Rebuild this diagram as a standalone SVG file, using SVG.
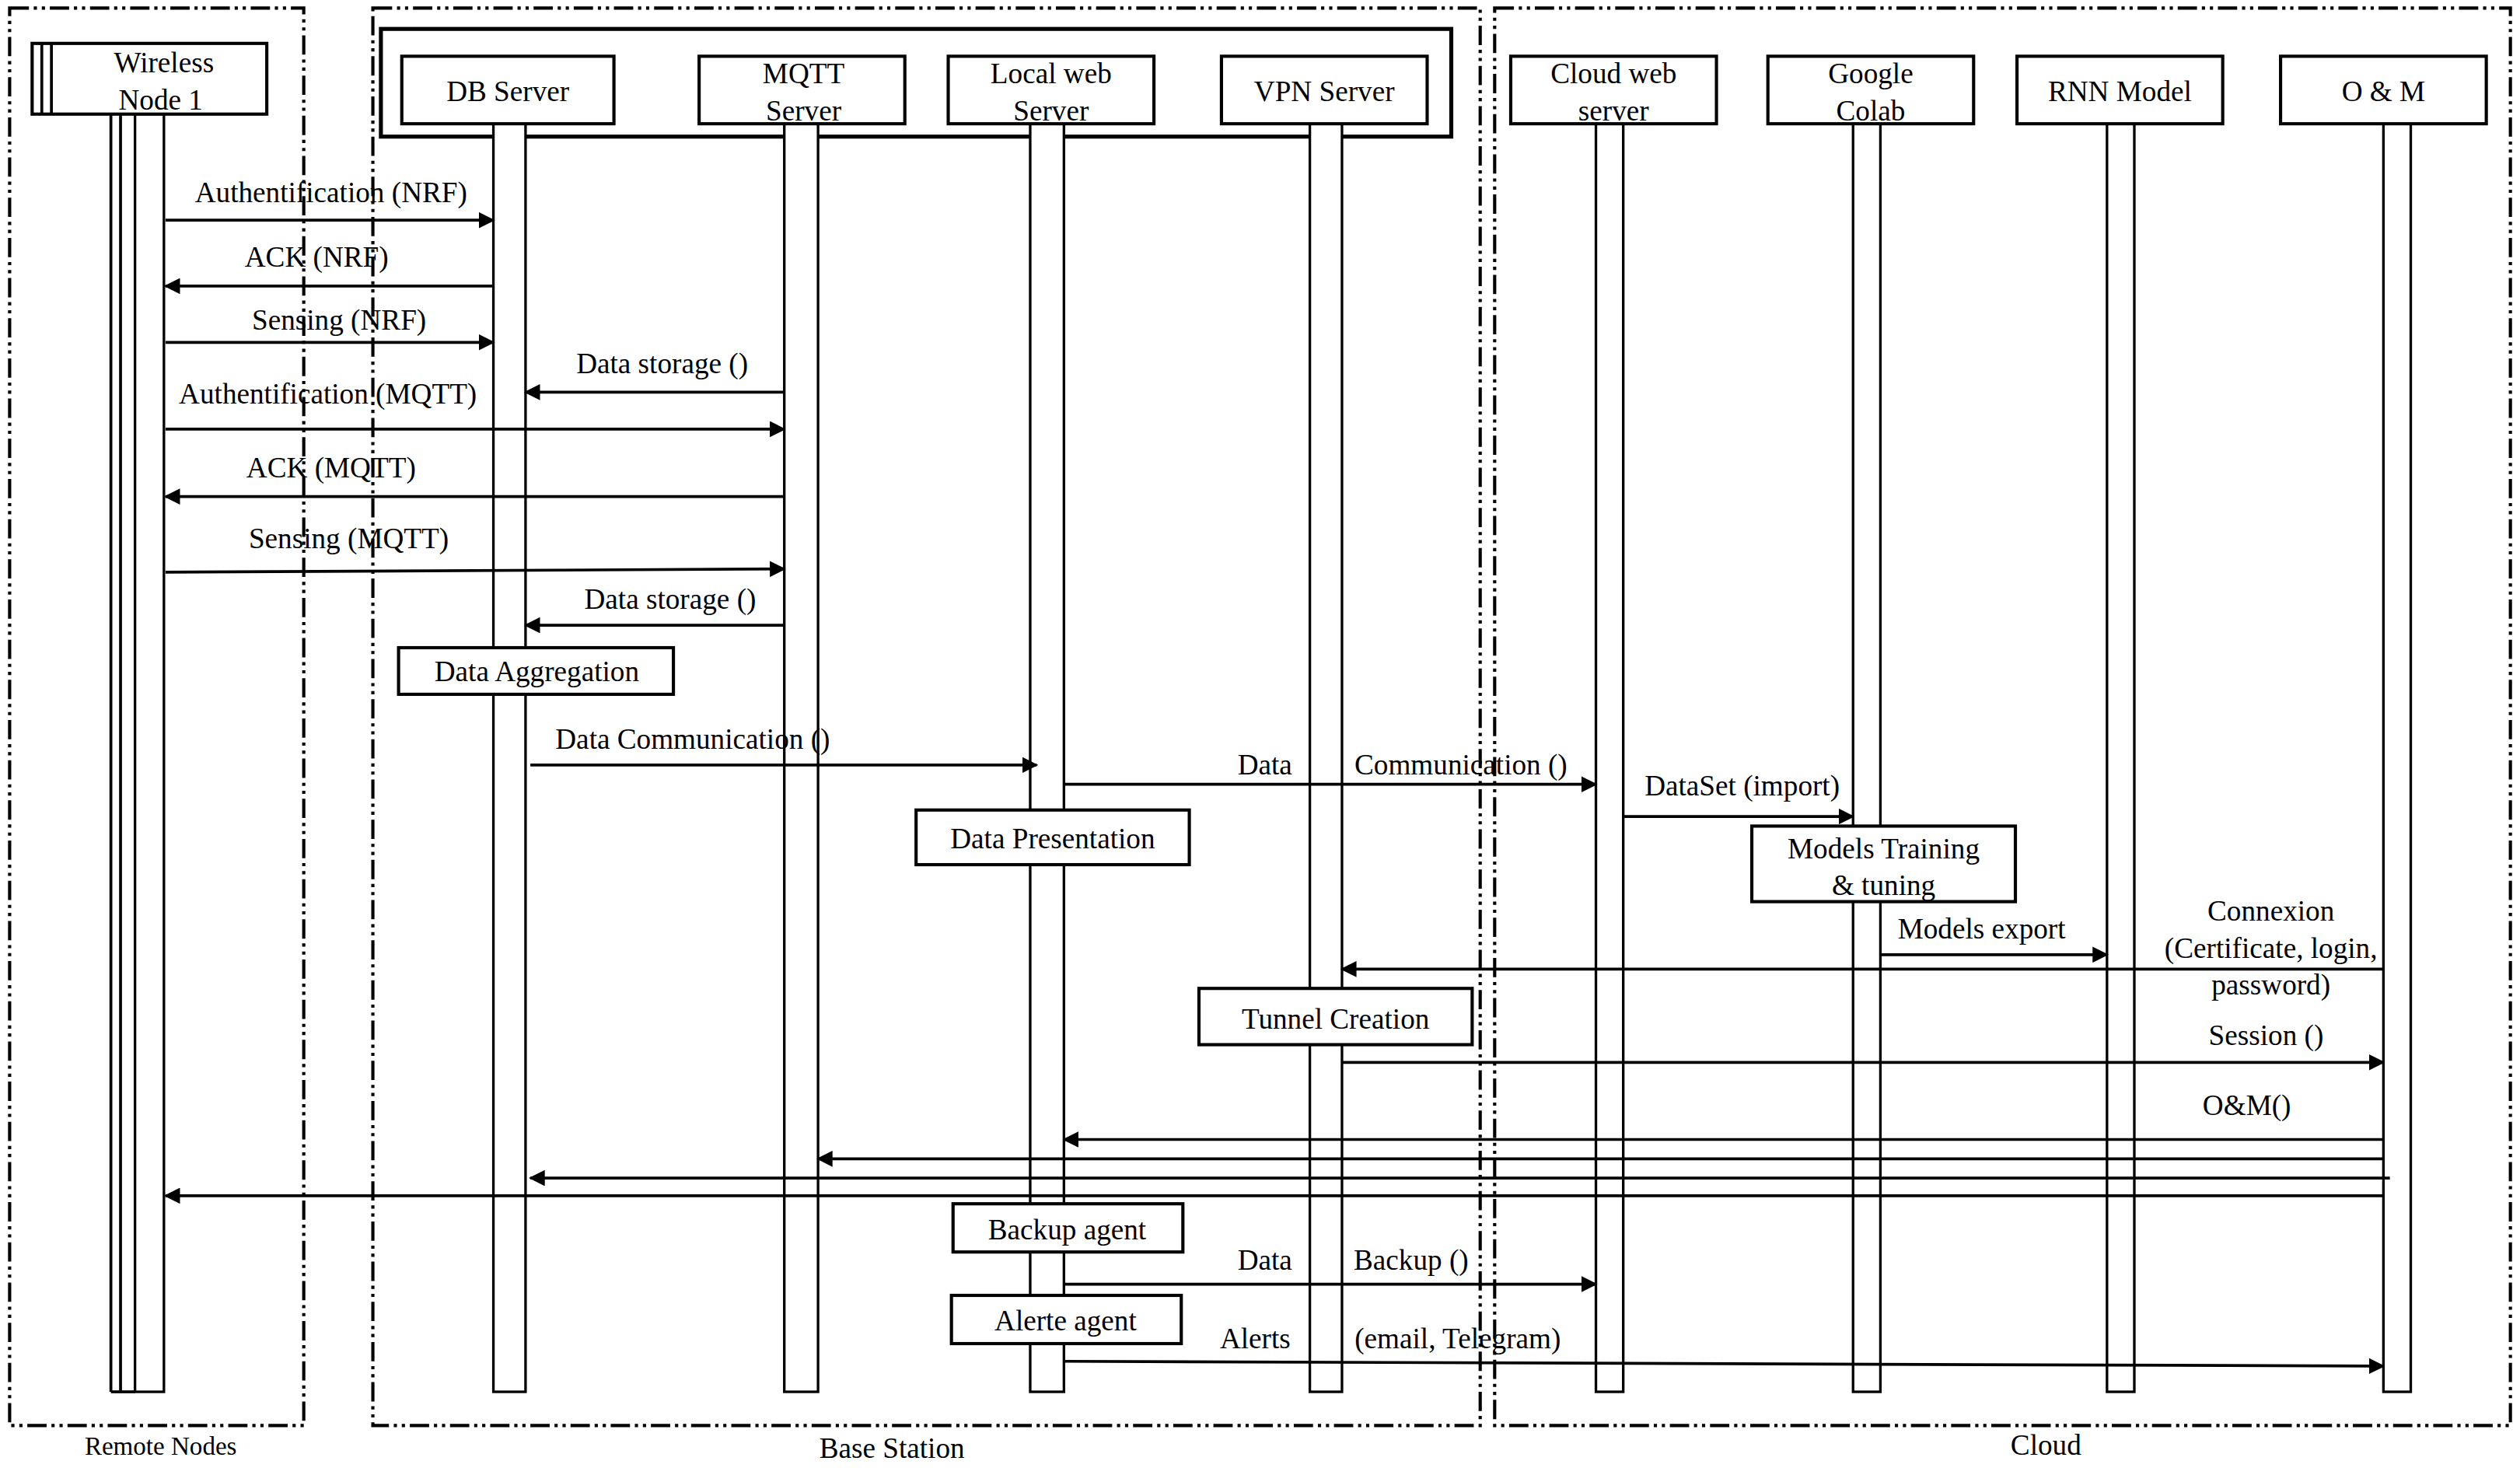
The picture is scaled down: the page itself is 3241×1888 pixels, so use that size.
<svg xmlns="http://www.w3.org/2000/svg" width="3241" height="1888" viewBox="0 0 3241 1888">
<defs>
<style>
text{font-family:"Liberation Serif","Times New Roman",serif;font-size:18px;fill:#000;text-anchor:middle}
.frame{fill:none;stroke:#000;stroke-width:2;stroke-dasharray:12,3,2,3,2,3}
.box{fill:#fff;stroke:#000;stroke-width:2}
.life{fill:#fff;stroke:#000;stroke-width:1.6}
.msg{fill:none;stroke:#000;stroke-width:1.8;marker-end:url(#ah)}
.ln{fill:none;stroke:#000;stroke-width:1.8}
</style>
<marker id="ah" markerUnits="userSpaceOnUse" markerWidth="10" markerHeight="10" refX="9" refY="5" orient="auto">
<path d="M0,0 L10,5 L0,10 Z" fill="#000"/>
</marker>
</defs>
<rect width="3241" height="1888" fill="#fff"/>
<g transform="scale(2.067)">
<g id="frames">
<rect class="frame" x="6" y="5" width="183" height="882"/>
<rect class="frame" x="232" y="5" width="689" height="882"/>
<rect class="frame" x="930" y="5" width="632" height="882"/>
<rect x="237" y="18" width="666" height="67" fill="none" stroke="#000" stroke-width="2.5"/>
<text x="100" y="905" style="font-size:16px">Remote Nodes</text>
<text x="555" y="907">Base Station</text>
<text x="1273" y="905">Cloud</text>
</g>
<g id="lifelines">
<line class="ln" x1="69" y1="71" x2="69" y2="866"/>
<line class="ln" x1="75" y1="71" x2="75" y2="866"/>
<rect class="life" x="84" y="71" width="18" height="795"/>
<line class="ln" x1="69" y1="866" x2="84" y2="866"/>
<rect class="life" x="307" y="77" width="20" height="789"/>
<rect class="life" x="488" y="77" width="21" height="789"/>
<rect class="life" x="641" y="77" width="21" height="789"/>
<rect class="life" x="815" y="77" width="20" height="789"/>
<rect class="life" x="993" y="77" width="17" height="789"/>
<rect class="life" x="1153" y="77" width="17" height="789"/>
<rect class="life" x="1311" y="77" width="17" height="789"/>
<rect class="life" x="1483" y="77" width="17" height="789"/>
</g>
<g id="node-wireless">
<rect class="box" x="20" y="27" width="146" height="44"/>
<line class="ln" x1="26" y1="27" x2="26" y2="71"/><line class="ln" x1="32" y1="27" x2="32" y2="71"/>
<text x="102" y="45">Wireless</text><text x="100" y="68">Node 1</text>
</g>
<g id="node-db"><rect class="box" x="250" y="35" width="132" height="42"/><text x="316" y="63">DB Server</text></g>
<g id="node-mqtt"><rect class="box" x="435" y="35" width="128" height="42"/><text x="500" y="52">MQTT</text><text x="500" y="75">Server</text></g>
<g id="node-local"><rect class="box" x="590" y="35" width="128" height="42"/><text x="654" y="52">Local web</text><text x="654" y="75">Server</text></g>
<g id="node-vpn"><rect class="box" x="760" y="35" width="128" height="42"/><text x="824" y="63">VPN Server</text></g>
<g id="node-cloudweb"><rect class="box" x="940" y="35" width="128" height="42"/><text x="1004" y="52">Cloud web</text><text x="1004" y="75">server</text></g>
<g id="node-colab"><rect class="box" x="1100" y="35" width="128" height="42"/><text x="1164" y="52">Google</text><text x="1164" y="75">Colab</text></g>
<g id="node-rnn"><rect class="box" x="1255" y="35" width="128" height="42"/><text x="1319" y="63">RNN Model</text></g>
<g id="node-om"><rect class="box" x="1419" y="35" width="128" height="42"/><text x="1483" y="63">O &amp; M</text></g>
<g id="connectors">
<line class="msg" x1="103" y1="137" x2="307" y2="137"/>
<line class="msg" x1="307" y1="178" x2="103" y2="178"/>
<line class="msg" x1="103" y1="213" x2="307" y2="213"/>
<line class="msg" x1="488" y1="244" x2="327" y2="244"/>
<line class="msg" x1="103" y1="267" x2="488" y2="267"/>
<line class="msg" x1="488" y1="309" x2="103" y2="309"/>
<line class="msg" x1="103" y1="356" x2="488" y2="354"/>
<line class="msg" x1="488" y1="389" x2="327" y2="389"/>
<line class="msg" x1="330" y1="476" x2="645" y2="476"/>
<line class="msg" x1="662" y1="488" x2="993" y2="488"/>
<line class="msg" x1="1010" y1="508" x2="1153" y2="508"/>
<line class="msg" x1="1170" y1="594" x2="1311" y2="594"/>
<line class="msg" x1="1483" y1="603" x2="835" y2="603"/>
<line class="msg" x1="835" y1="661" x2="1483" y2="661"/>
<line class="msg" x1="1483" y1="709" x2="662" y2="709"/>
<line class="msg" x1="1483" y1="721" x2="509" y2="721"/>
<line class="msg" x1="1487" y1="733" x2="330" y2="733"/>
<line class="msg" x1="1483" y1="744" x2="103" y2="744"/>
<line class="msg" x1="662" y1="799" x2="993" y2="799"/>
<line class="msg" x1="662" y1="847" x2="1483" y2="850"/>
</g>
<g id="labels">
<text x="206" y="126">Authentification (NRF)</text>
<text x="197" y="166">ACK (NRF)</text>
<text x="211" y="205">Sensing (NRF)</text>
<text x="412" y="232">Data storage ()</text>
<text x="204" y="251">Authentification (MQTT)</text>
<text x="206" y="297">ACK (MQTT)</text>
<text x="217" y="341">Sensing (MQTT)</text>
<text x="417" y="379">Data storage ()</text>
<text x="431" y="466">Data Communication ()</text>
<text x="787" y="482">Data</text>
<text x="909" y="482">Communication ()</text>
<text x="1084" y="495">DataSet (import)</text>
<text x="1233" y="584">Models export</text>
<text x="1413" y="573">Connexion</text>
<text x="1413" y="596">(Certificate, login,</text>
<text x="1413" y="619">password)</text>
<text x="1410" y="650">Session ()</text>
<text x="1398" y="694">O&amp;M()</text>
<text x="787" y="790">Data</text>
<text x="878" y="790">Backup ()</text>
<text x="781" y="839">Alerts</text>
<text x="907" y="839">(email, Telegram)</text>
</g>
<g id="node-aggregation"><rect class="box" x="248" y="403" width="171" height="29"/><text x="334" y="424">Data Aggregation</text></g>
<g id="node-presentation"><rect class="box" x="570" y="504" width="170" height="34"/><text x="655" y="528">Data Presentation</text></g>
<g id="node-training"><rect class="box" x="1090" y="514" width="164" height="47"/><text x="1172" y="534">Models Training</text><text x="1172" y="557">&amp; tuning</text></g>
<g id="node-tunnel"><rect class="box" x="746" y="615" width="170" height="35"/><text x="831" y="640">Tunnel Creation</text></g>
<g id="node-backup"><rect class="box" x="593" y="749" width="143" height="30"/><text x="664" y="771">Backup agent</text></g>
<g id="node-alert"><rect class="box" x="592" y="806" width="143" height="30"/><text x="663" y="828">Alerte agent</text></g>
</g>
</svg>
